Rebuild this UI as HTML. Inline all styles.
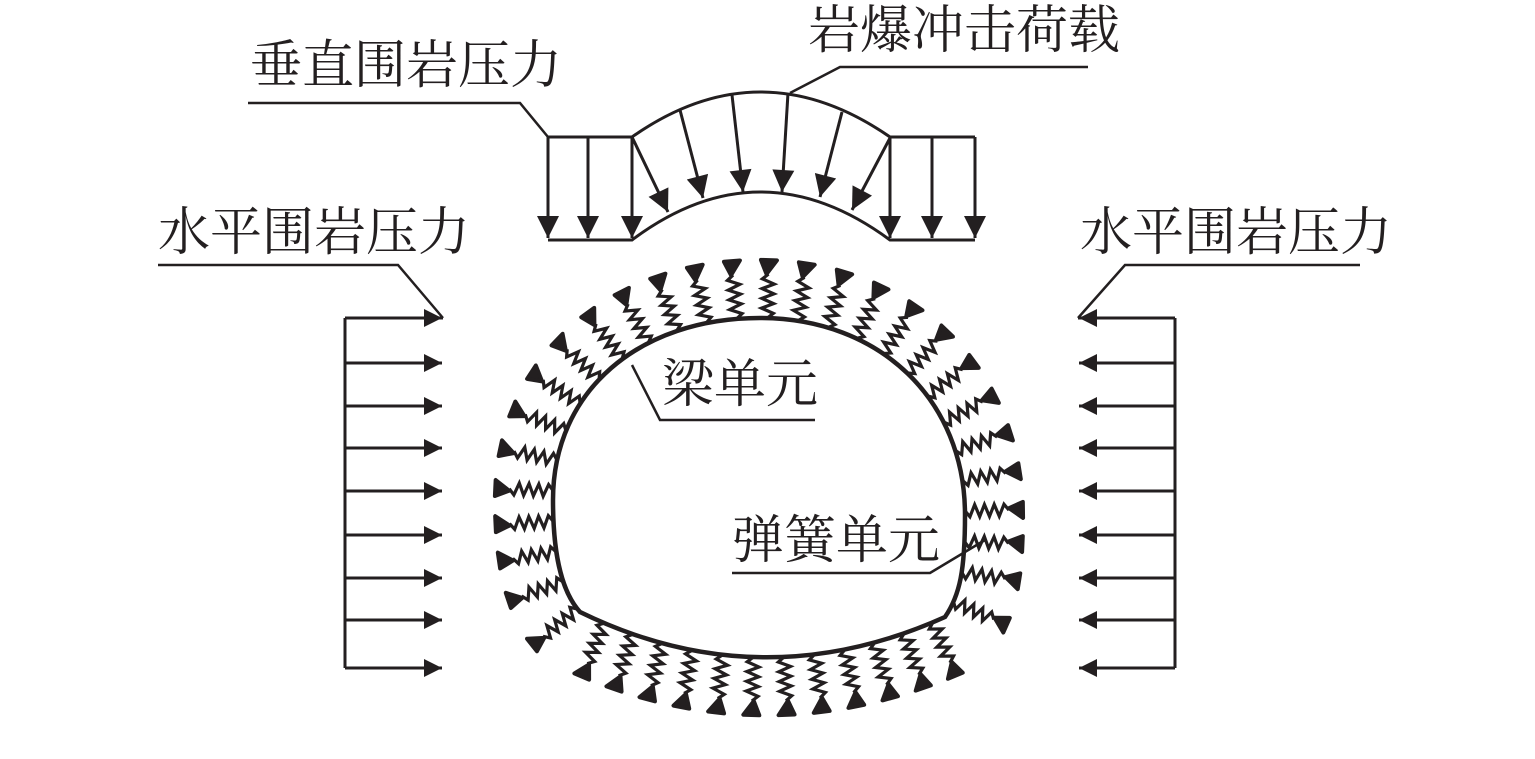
<!DOCTYPE html>
<html><head><meta charset="utf-8"><style>
body{margin:0;background:#fff}
svg text{font-family:"Liberation Serif","Noto Serif CJK SC",serif;font-size:52px;fill:#231f20}
</style></head><body>
<svg id="s" width="1535" height="754" viewBox="0 0 1535 754" xmlns="http://www.w3.org/2000/svg">
<defs>
<marker id="b" viewBox="0 0 10 10" refX="10" refY="5" markerWidth="36" markerHeight="22" markerUnits="userSpaceOnUse" orient="auto"><path d="M0,0 L10,5 L0,10z" fill="#231f20"/></marker>
<marker id="h" viewBox="0 0 10 10" refX="10" refY="5" markerWidth="32" markerHeight="18" markerUnits="userSpaceOnUse" orient="auto"><path d="M0,0 L10,5 L0,10z" fill="#231f20"/></marker></defs>
<g stroke="#231f20" fill="none" stroke-width="2.5">
<text x="250" y="83" stroke="none">垂直围岩压力</text>
<text x="808" y="48" stroke="none">岩爆冲击荷载</text>
<text x="158" y="250" stroke="none">水平围岩压力</text>
<text x="1080" y="250" stroke="none">水平围岩压力</text>
<text x="662" y="402" stroke="none">梁单元</text>
<text x="732" y="558" stroke="none">弹簧单元</text>
<polyline points="248,103 520,103 548,137"/>
<polyline points="1088,67 840,67 790,93"/>
<polyline points="158,265 398,265 443,318"/>
<polyline points="1360,265 1125,265 1078,318"/>
<polyline points="632,365 660,420 815,420"/>
<polyline points="732,573 930,573 985,540"/>
<path d="M548,137 H632 Q760,47 890,137 H975" stroke-width="3"/>
<path d="M548,240 H632 Q760,144 890,240 H975" stroke-width="3"/>
<g id="arr" stroke-width="3"></g>
<path id="tun" stroke-width="4.5" d="M553,500 C553,390 640,318 760,318 C880,318 965,400 965,515 C965,570 960,595 945,617 Q760,700 580,612 C560,590 553,550 553,500 Z"/>
<g id="spr" stroke-width="3.2"></g>
</g>
</svg>
<script>
const NS="http://www.w3.org/2000/svg",A=document.getElementById('arr'),S=document.getElementById('spr');
function ln(x1,y1,x2,y2,m){const l=document.createElementNS(NS,'line');l.setAttribute('x1',x1);l.setAttribute('y1',y1);l.setAttribute('x2',x2);l.setAttribute('y2',y2);if(m)l.setAttribute('marker-end','url(#'+m+')');A.appendChild(l);}
[548,588,632,890,932,975].forEach(x=>ln(x,137,x,238,'b'));
[[632,137,668,212],[680,110,703,198],[732,95,743,192],[788,93,782,192],[842,112,820,197],[890,138,852,210]].forEach(a=>ln(a[0],a[1],a[2],a[3],'b'));
ln(345,318,443,318);ln(345,318,345,668);ln(1078,318,1175,318);ln(1175,318,1175,668);
[318,363,406,448,491,535,578,620,668].forEach(y=>{ln(345,y,442,y,'h');ln(1175,y,1079,y,'h');});
const T=document.getElementById('tun'),L=T.getTotalLength(),N=40;
for(let i=0;i<N;i++){const s=L*(i+0.3)/N,p=T.getPointAtLength(s),p2=T.getPointAtLength((s+1)%L);
let dx=p2.x-p.x,dy=p2.y-p.y,d=Math.hypot(dx,dy);dx/=d;dy/=d;let nx=-dy,ny=dx;
if((p.x-760)*nx+(p.y-490)*ny<0){nx=-nx;ny=-ny;}
let pts=[[p.x,p.y]];const len=44,z=8;
for(let k=1;k<=z;k++){const t=len*k/(z+1),o=(k%2?6:-6);pts.push([p.x+nx*t+dx*o,p.y+ny*t+dy*o]);}
pts.push([p.x+nx*len,p.y+ny*len]);
const pl=document.createElementNS(NS,'polyline');pl.setAttribute('points',pts.map(a=>a.join(',')).join(' '));S.appendChild(pl);
const e=[p.x+nx*len,p.y+ny*len],tr=document.createElementNS(NS,'path');
tr.setAttribute('d',`M${e[0]-dx*2},${e[1]-dy*2} L${e[0]+nx*14+dx*8},${e[1]+ny*14+dy*8} L${e[0]+nx*14-dx*8},${e[1]+ny*14-dy*8}Z`);
tr.setAttribute('fill','#231f20');tr.setAttribute('stroke-width','4');tr.setAttribute('stroke-linejoin','round');S.appendChild(tr);}
</script>
</body></html>
